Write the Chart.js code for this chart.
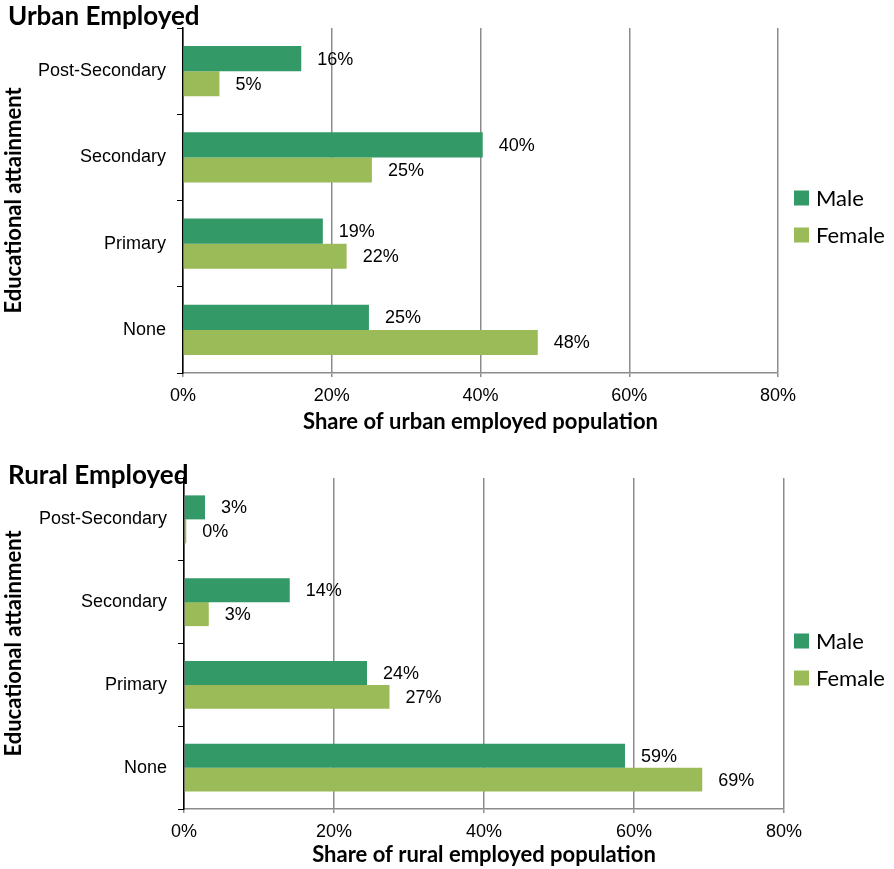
<!DOCTYPE html>
<html>
<head>
<meta charset="utf-8">
<script src="https://cdn.jsdelivr.net/npm/chart.js@4.4.0/dist/chart.umd.min.js"></script>
<style>
body { margin: 0; background: #fff; }
.box { position: absolute; left: 0; width: 894px; }
#urban { top: 0; height: 440px; }
#rural { top: 440px; height: 429px; }
</style>
</head>
<body>
<div class="box" id="urban"><canvas id="urbanc"></canvas></div>
<div class="box" id="rural"><canvas id="ruralc"></canvas></div>
<script>
// Data

let levels = ['Post-Secondary', 'Secondary', 'Primary', 'None'];
let urbanMale = [15.9, 40.3, 18.8, 25.0];
let urbanFemale = [4.9, 25.4, 22.0, 47.7];
let ruralMale = [2.8, 14.1, 24.4, 58.8];
let ruralFemale = [0.3, 3.3, 27.4, 69.1];
let xTicks = [0, 20, 40, 60, 80];

let maleColor = '#339966';
let femaleColor = '#9bbb59';
let tickFont = {family: '"Liberation Sans", Arial, sans-serif', size: 18};
let boldFont = {family: 'Lato, sans-serif', size: 22, weight: 'bold'};

// Plugins

const valueLabels = {
	id: 'valueLabels',
	afterDatasetsDraw(chart) {
		const ctx = chart.ctx;
		ctx.save();
		ctx.font = '18px "Liberation Sans", Arial, sans-serif';
		ctx.fillStyle = '#000';
		ctx.textAlign = 'left';
		ctx.textBaseline = 'middle';
		chart.data.datasets.forEach(function(ds, i) {
			chart.getDatasetMeta(i).data.forEach(function(bar, j) {
				ctx.fillText(Math.round(ds.data[j]) + '%', bar.x + 16, bar.y + 1);
			});
		});
		ctx.restore();
	}
};

const sideLegend = {
	id: 'sideLegend',
	afterDraw(chart) {
		const ctx = chart.ctx;
		const area = chart.chartArea;
		let y = (area.top + area.bottom) / 2 - 3;
		ctx.save();
		ctx.font = '22px Lato, sans-serif';
		ctx.textBaseline = 'middle';
		chart.data.datasets.forEach(function(ds) {
			ctx.fillStyle = ds.backgroundColor;
			ctx.fillRect(794, y - 7, 15, 15);
			ctx.fillStyle = '#000';
			ctx.fillText(ds.label, 816, y + 1);
			y += 37;
		});
		ctx.restore();
	}
};

// Panel

function load_panel(id, title, xTitle, male, female, p) {
	new Chart(id, {
	type: 'bar',
	data: {
		labels: levels,
		datasets: [{
			label: 'Male',
			data: male,
			backgroundColor: maleColor,
			barPercentage: 1.0,
			categoryPercentage: 0.58
		},
		{
			label: 'Female',
			data: female,
			backgroundColor: femaleColor,
			barPercentage: 1.0,
			categoryPercentage: 0.58
		}]
	},
	options: {
		indexAxis: 'y',
		responsive: true,
		maintainAspectRatio: false,
		animation: false,
		layout: {padding: {left: 8, right: p.right, top: 0, bottom: 0}},
		plugins: {
			legend: {display: false},
			tooltip: {enabled: false},
			title: {
				display: true,
				text: title,
				align: 'start',
				color: '#000',
				font: {family: 'Lato, sans-serif', size: 26, weight: 'bold'},
				padding: {top: p.titleTop, bottom: p.titleBottom}
			}
		},
		scales: {
			x: {
				min: xTicks[0],
				max: xTicks[xTicks.length - 1],
				afterFit: function(scale) { scale.height = p.xHeight; },
				ticks: {
					stepSize: 20,
					color: '#000',
					font: tickFont,
					padding: 8,
					callback: function(v) { return v + '%'; }
				},
				grid: {color: '#8c8c8c', lineWidth: 1.5, tickLength: 4},
				border: {color: '#8c8c8c', width: 1.5},
				title: {display: true, text: xTitle, color: '#000', font: boldFont, padding: {top: 0, bottom: p.xTitleBottom}}
			},
			y: {
				afterFit: function(scale) { scale.width = p.left - 8; },
				ticks: {color: '#000', font: tickFont, padding: 11},
				grid: {offset: true, drawOnChartArea: false, color: '#000', tickLength: 6},
				border: {color: '#000', width: 1.5},
				title: {display: true, text: 'Educational attainment', color: '#000', font: boldFont, padding: {top: -7, bottom: 0}}
			}
		}
	},
	plugins: [valueLabels, sideLegend]
	});
}

load_panel('urbanc', 'Urban Employed', 'Share of urban employed population', urbanMale, urbanFemale,
	{left: 183, right: 116, xHeight: 67, titleTop: 1.4, titleBottom: -4.6, xTitleBottom: 4.8});
load_panel('ruralc', 'Rural Employed', 'Share of rural employed population', ruralMale, ruralFemale,
	{left: 184, right: 110, xHeight: 60, titleTop: 20.4, titleBottom: -13.6, xTitleBottom: 0.8});
</script>
</body>
</html>
